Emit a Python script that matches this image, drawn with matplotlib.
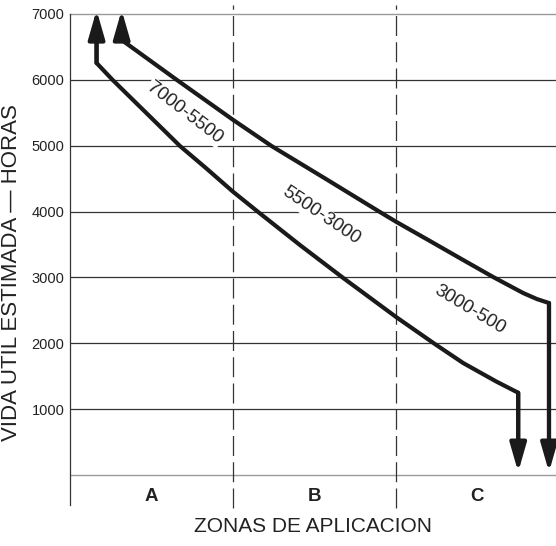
import matplotlib
matplotlib.use("Agg")
import matplotlib.pyplot as plt

plt.rcParams['font.family'] = ['Liberation Sans', 'DejaVu Sans']

# curves (x in zone units 0..3, y in hours)
lower_x = [0.163, 0.163, 0.261, 0.675, 0.834, 1.0, 1.155, 1.411, 1.677,
           2.004, 2.239, 2.413, 2.618, 2.750, 2.750]
lower_y = [6700, 6256, 6000, 4995, 4661, 4302, 3993, 3492, 2991,
           2394, 1989, 1700, 1417, 1250, 300]
upper_x = [0.317, 0.317, 0.656, 1.002, 1.237, 1.571, 1.902, 2.004, 2.209,
           2.413, 2.597, 2.781, 2.865, 2.939, 2.939]
upper_y = [6700, 6605, 5998, 5390, 4995, 4494, 3993, 3841, 3553,
           3264, 3006, 2763, 2672, 2612, 300]
arrow_top = 7060
arrow_bottom = 45

grid_vals = [1000, 2000, 3000, 4000, 5000, 6000]
tick_vals = [1000, 2000, 3000, 4000, 5000, 6000, 7000]
zones = ['A', 'B', 'C']
labels = ['7000-5500', '5500-3000', '3000-500']
label_pos = [(0.706, 5500), (1.543, 3935), (2.454, 2518)]
label_rot = [-37.5, -34, -31]

fig = plt.figure(figsize=(5.56, 5.46), dpi=100)
ax = fig.add_axes([0.1259, 0.0696, 0.8741, 0.9048])
ax.set_xlim(0, 2.982)
ax.set_ylim(-500, 7000)

for v in grid_vals:
    ax.axhline(v, color='#333333', lw=0.9, zorder=1)
ax.axhline(7000, color='#9a9a9a', lw=1.0, zorder=1, clip_on=False)
ax.axhline(0, color='#9a9a9a', lw=1.0, zorder=1)

for xv in [1, 2]:
    ax.plot([xv, xv], [-500, 7135], color='#333333', lw=0.9,
            dashes=(16, 5), clip_on=False, zorder=1)

ink = '#1a1a1a'
head = '-|>,head_length=1.15,head_width=0.33'
for xs, ys in [(lower_x, lower_y), (upper_x, upper_y)]:
    ax.plot(xs, ys, color=ink, lw=3.0, solid_joinstyle='round',
            solid_capstyle='butt', zorder=3, clip_on=False)
    ax.annotate('', xy=(xs[0], arrow_top), xytext=(xs[0], ys[1]),
                arrowprops=dict(arrowstyle=head, mutation_scale=15, lw=3.0,
                                color=ink, shrinkA=0, shrinkB=0),
                annotation_clip=False, zorder=4)
    ax.annotate('', xy=(xs[-1], arrow_bottom), xytext=(xs[-1], ys[-2]),
                arrowprops=dict(arrowstyle=head, mutation_scale=15, lw=3.0,
                                color=ink, shrinkA=0, shrinkB=0),
                annotation_clip=False, zorder=4)

for txt, (lx, ly), r in zip(labels, label_pos, label_rot):
    ax.text(lx, ly, txt, rotation=r, rotation_mode='anchor', ha='center',
            va='center', fontsize=13.5, color='#222222', zorder=2,
            bbox=dict(facecolor='white', edgecolor='none', pad=1))

for i, z in enumerate(zones):
    ax.text(i + 0.5, -320, z, ha='center', va='center', fontsize=13.5,
            fontweight='bold', color='#222222')

ax.set_yticks(tick_vals)
ax.set_yticklabels([str(v) for v in tick_vals])
ax.tick_params(axis='y', length=0, pad=4, labelsize=10.5, labelcolor='#222222')
ax.set_xticks([])

for s in ['top', 'right', 'bottom']:
    ax.spines[s].set_visible(False)
ax.spines['left'].set_color('#333333')
ax.spines['left'].set_linewidth(0.9)
ax.spines['left'].set_bounds(-450, 7000)

fig.text(0.021, 0.5, 'VIDA UTIL ESTIMADA — HORAS', rotation=90,
         ha='center', va='center', fontsize=16, color='#222222')
fig.text(0.563, 0.035, 'ZONAS DE APLICACION', ha='center', va='center',
         fontsize=15, color='#222222')

fig.savefig('out.png', dpi=100)
